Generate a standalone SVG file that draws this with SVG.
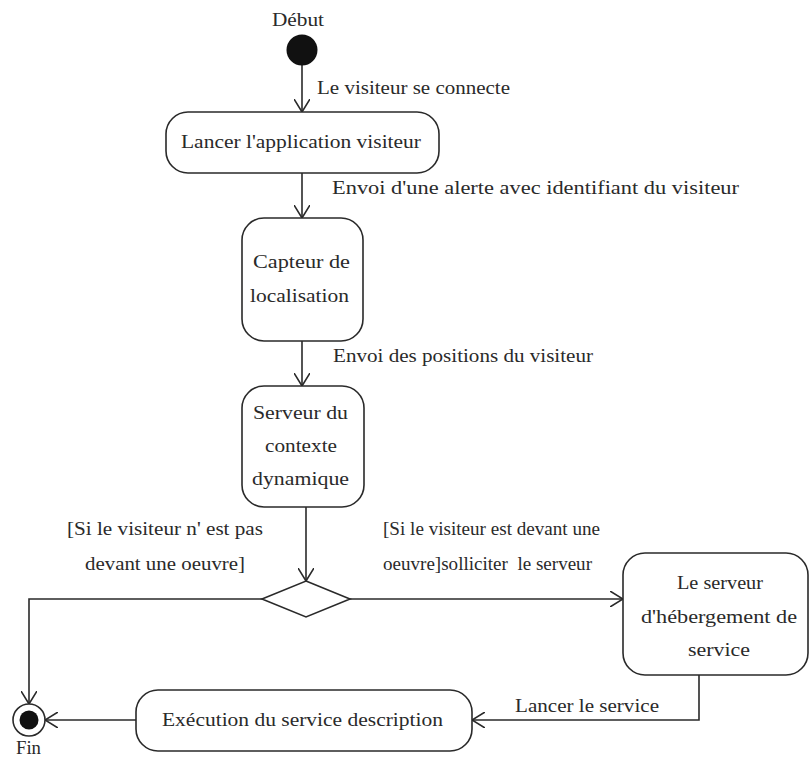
<svg xmlns="http://www.w3.org/2000/svg" width="811" height="758" viewBox="0 0 811 758">
  <style>
    .node { fill: #ffffff; stroke: #2a2a2a; stroke-width: 1.6; }
    .edge { fill: none; stroke: #2a2a2a; stroke-width: 1.6; }
    .t { font-family: "Liberation Serif", "DejaVu Serif", serif; font-size: 19px; fill: #2a2a2a; white-space: pre; }
  </style>
  <defs>
    <marker id="open" viewBox="0 0 14 16" refX="13" refY="8" markerWidth="14" markerHeight="16" markerUnits="userSpaceOnUse" orient="auto">
      <path d="M0,0 L13,8 L0,16" fill="none" stroke="#2a2a2a" stroke-width="1.6"/>
    </marker>
  </defs>
  <rect width="811" height="758" fill="#ffffff"/>

  <g id="connectors">
    <path class="edge" d="M302,65 L302,112" marker-end="url(#open)"/>
    <path class="edge" d="M302,173 L302,218" marker-end="url(#open)"/>
    <path class="edge" d="M302,341 L302,386" marker-end="url(#open)"/>
    <path class="edge" d="M306,507 L306,581" marker-end="url(#open)"/>
    <path class="edge" d="M262,599 L29,599 L29,704" marker-end="url(#open)"/>
    <path class="edge" d="M350,599 L623,599" marker-end="url(#open)"/>
    <path class="edge" d="M699,675 L699,720 L472,720" marker-end="url(#open)"/>
    <path class="edge" d="M136,720 L45,720" marker-end="url(#open)"/>
    <text class="t" x="317" y="94" textLength="193" lengthAdjust="spacingAndGlyphs">Le visiteur se connecte</text>
    <text class="t" x="332" y="194" textLength="407" lengthAdjust="spacingAndGlyphs">Envoi d'une alerte avec identifiant du visiteur</text>
    <text class="t" x="333" y="362" textLength="260" lengthAdjust="spacingAndGlyphs">Envoi des positions du visiteur</text>
    <text class="t" x="67" y="535" textLength="196" lengthAdjust="spacingAndGlyphs">[Si le visiteur n' est pas</text>
    <text class="t" x="85" y="570" textLength="160" lengthAdjust="spacingAndGlyphs">devant une oeuvre]</text>
    <text class="t" x="383" y="535" textLength="217" lengthAdjust="spacingAndGlyphs">[Si le visiteur est devant une</text>
    <text class="t" x="383" y="570" textLength="209" lengthAdjust="spacingAndGlyphs">oeuvre]solliciter  le serveur</text>
    <text class="t" x="515" y="712" textLength="144" lengthAdjust="spacingAndGlyphs">Lancer le service</text>
  </g>

  <g id="start">
    <text class="t" x="272" y="26" textLength="52" lengthAdjust="spacingAndGlyphs">Début</text>
    <circle cx="302" cy="50" r="15.5" fill="#111"/>
  </g>

  <g id="lancer-application">
    <rect class="node" x="166" y="112" width="273" height="61" rx="22"/>
    <text class="t" x="181" y="148" textLength="240" lengthAdjust="spacingAndGlyphs">Lancer l'application visiteur</text>
  </g>

  <g id="capteur">
    <rect class="node" x="242" y="218" width="121" height="123" rx="22"/>
    <text class="t" x="253" y="268" textLength="97" lengthAdjust="spacingAndGlyphs">Capteur de</text>
    <text class="t" x="250" y="302" textLength="99" lengthAdjust="spacingAndGlyphs">localisation</text>
  </g>

  <g id="serveur-contexte">
    <rect class="node" x="242" y="386" width="122" height="121" rx="22"/>
    <text class="t" x="253" y="419" textLength="95" lengthAdjust="spacingAndGlyphs">Serveur du</text>
    <text class="t" x="265" y="452" textLength="72" lengthAdjust="spacingAndGlyphs">contexte</text>
    <text class="t" x="252" y="485" textLength="97" lengthAdjust="spacingAndGlyphs">dynamique</text>
  </g>

  <g id="decision">
    <polygon class="node" points="306,581 350,599 306,617 262,599"/>
  </g>

  <g id="serveur-hebergement">
    <rect class="node" x="623" y="553" width="185" height="122" rx="22"/>
    <text class="t" x="677" y="589" textLength="86" lengthAdjust="spacingAndGlyphs">Le serveur</text>
    <text class="t" x="641" y="623" textLength="156" lengthAdjust="spacingAndGlyphs">d'hébergement de</text>
    <text class="t" x="688" y="656" textLength="62" lengthAdjust="spacingAndGlyphs">service</text>
  </g>

  <g id="execution">
    <rect class="node" x="136" y="690" width="336" height="61" rx="22"/>
    <text class="t" x="162" y="726" textLength="281" lengthAdjust="spacingAndGlyphs">Exécution du service description</text>
  </g>

  <g id="end">
    <circle cx="29" cy="720" r="16" fill="#ffffff" stroke="#2a2a2a" stroke-width="1.6"/>
    <circle cx="29" cy="720" r="9.5" fill="#111"/>
    <text class="t" x="16" y="754" textLength="25" lengthAdjust="spacingAndGlyphs">Fin</text>
  </g>
</svg>
